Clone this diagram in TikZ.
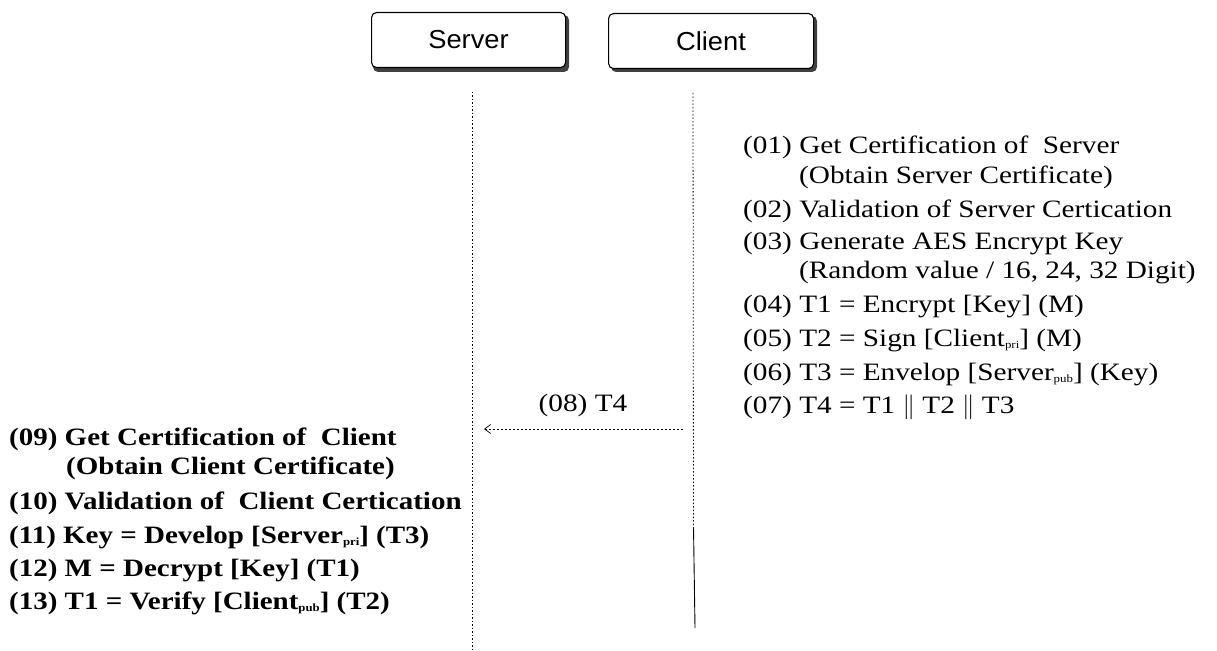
\documentclass[tikz,border=0pt]{standalone}
\usepackage{fontspec}
\setmainfont{Liberation Serif}[FakeStretch=1.17]
\newfontfamily\boldwide{Liberation Serif}[FakeStretch=1.16, BoldFont={* Bold}]
\newfontfamily\boxfont{Liberation Sans}[FakeStretch=1.05]
\usetikzlibrary{arrows.meta}
\newcommand\lowidx[1]{\raisebox{-0.25ex}{\fontsize{11}{11}\selectfont #1}}
\tikzset{
  actor/.style={draw=black, line width=1.1pt, rounded corners=5pt, fill=white,
    minimum height=55pt, font=\boxfont\fontsize{26}{26}\selectfont, inner sep=0pt},
  shadowbox/.style={fill=black!75, rounded corners=5pt},
  lifeline/.style={line width=0.8pt, dash pattern=on 1.5pt off 2pt},
  solidline/.style={line width=0.9pt},
  msg/.style={line width=0.7pt, dash pattern=on 2.5pt off 1.5pt, -{Straight Barb[length=6pt,width=9pt]}},
  cstep/.style={anchor=base west, inner sep=0pt, font=\fontsize{25}{25}\selectfont},
  sstep/.style={anchor=base west, inner sep=0pt, font=\boldwide\bfseries\fontsize{25}{25}\selectfont},
  msglabel/.style={inner sep=0pt, font=\fontsize{25}{25}\selectfont},
}
\begin{document}
\begin{tikzpicture}[x=1pt, y=-1pt]
\useasboundingbox (0,0) rectangle (1217,650);

% participant boxes with a dark offset edge on the right and bottom
\fill[shadowbox] (373,15) rectangle (569,72);
\node[actor, minimum width=194pt, anchor=north west] (server) at (371,12) {Server};
\fill[shadowbox] (611,16) rectangle (817,72);
\node[actor, minimum width=205pt, anchor=north west] (client) at (608,13) {Client};

% lifelines
\coordinate (stop) at (472,92);
\coordinate (sbot) at (472,650);
\coordinate (ctop) at (693,93);
\coordinate (cmid) at (693.5,527);
\coordinate (cbot) at (695,628);
\draw[lifeline] (stop) -- (sbot);
\draw[lifeline] (ctop) -- (cmid);
\draw[solidline] (cmid) -- (cbot);

% message from client to server
\coordinate (mfrom) at (683,429);
\coordinate (mto) at (484,429);
\draw[msg] (mfrom) -- (mto);
\node[msglabel] (m08) at (583,405) {(08) T4};

% client-side steps
\node[cstep] (c01)  at (743,153) {(01) Get Certification of\ \ Server};
\node[cstep] (c01b) at (799,183) {(Obtain Server Certificate)};
\node[cstep] (c02)  at (743,217) {(02) Validation of Server Certication};
\node[cstep] (c03)  at (743,249) {(03) Generate AES Encrypt Key};
\node[cstep] (c03b) at (799,278) {(Random value / 16, 24, 32 Digit)};
\node[cstep] (c04)  at (743,312) {(04) T1 = Encrypt [Key] (M)};
\node[cstep] (c05)  at (743,346) {(05) T2 = Sign [Client\lowidx{pri}] (M)};
\node[cstep] (c06)  at (743,380) {(06) T3 = Envelop [Server\lowidx{pub}] (Key)};
\node[cstep] (c07)  at (743,413) {(07) T4 = T1 $\|$ T2 $\|$ T3};

% server-side steps
\node[sstep] (s09)  at (9,445) {(09) Get Certification of\ \ Client};
\node[sstep] (s09b) at (66,474) {(Obtain Client Certificate)};
\node[sstep] (s10)  at (9,509) {(10) Validation of\ \ Client Certication};
\node[sstep] (s11)  at (9,543) {(11) Key = Develop [Server\lowidx{pri}] (T3)};
\node[sstep] (s12)  at (9,576) {(12) M = Decrypt [Key] (T1)};
\node[sstep] (s13)  at (9,609) {(13) T1 = Verify [Client\lowidx{pub}] (T2)};
\end{tikzpicture}
\end{document}
